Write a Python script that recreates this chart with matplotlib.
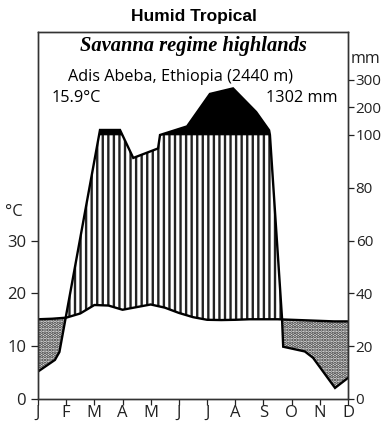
import numpy as np
import matplotlib.pyplot as plt

plt.rcParams['font.family'] = ['Open Sans', 'DejaVu Sans']
plt.rcParams['hatch.linewidth'] = 1.7

months = ['J', 'F', 'M', 'A', 'M', 'J', 'J', 'A', 'S', 'O', 'N', 'D']

# temperature (°C), read at half-month steps
temp_pos = np.arange(0, 11.01, 0.5)
temp_c = [15.1, 15.2, 15.4, 16.2, 17.8, 17.7, 16.9, 17.4, 17.9, 17.3, 16.3, 15.5,
          15.0, 14.95, 15.0, 15.1, 15.1, 15.1, 15.0, 14.9, 14.8, 14.7, 14.7]

# precipitation (mm), vertices of the drawn outline (position in months)
precip_pos = [0.0, 0.60, 0.76, 2.20, 2.91, 3.38, 4.26, 4.33, 5.29, 6.10, 6.92,
              7.74, 8.20, 8.23, 8.66, 8.70, 9.47, 9.76, 10.54, 11.0]
precip_mm = [10.4, 14.8, 17.8, 118, 118, 91.3, 94.9, 100, 131, 248, 268,
             183, 117, 100, 30.4, 19.8, 18.0, 15.6, 4.2, 8.0]

right_ticks_mm = [0, 20, 40, 60, 80, 100, 200, 300]


def mm_to_units(mm):
    mm = np.asarray(mm, dtype=float)
    return np.where(mm <= 100, mm / 2.0, 50 + (mm - 100) * 0.0525)


fig = plt.figure(figsize=(3.83, 4.21), dpi=100)
ax = fig.add_axes([38 / 383, 22 / 421, 310 / 383, 367 / 421])

p_units = mm_to_units(precip_mm)
xs = np.linspace(0, 11, 3000)
t_f = np.interp(xs, temp_pos, temp_c)
p_f = np.interp(xs, precip_pos, p_units)

# humid season: vertical hatching
ax.fill_between(xs, t_f, np.minimum(p_f, 50), where=p_f > t_f, interpolate=True,
                facecolor='white', edgecolor='#222222', hatch='|||', linewidth=0)
# very wet (> 100 mm): black
ax.fill_between(xs, 50, p_f, where=p_f > 50, interpolate=True,
                facecolor='black', edgecolor='black', linewidth=0.5)
# dry season: dotted
ax.fill_between(xs, p_f, t_f, where=p_f < t_f, interpolate=True,
                facecolor='#e4e4e4', edgecolor='#333333', hatch='.....', linewidth=0)

ax.plot(precip_pos, p_units, color='black', lw=1.7, solid_joinstyle='miter')
ax.plot(temp_pos, temp_c, color='black', lw=1.7)

ax.set_xlim(0, 11)
ax.set_ylim(0, 69.5)
ax.set_xticks(range(12))
ax.set_xticklabels(months, fontsize=12)
ax.set_yticks([0, 10, 20, 30])
ax.tick_params(axis='both', labelsize=12, colors='#222222', length=5, width=0.9)
ax.tick_params(axis='x', length=4, pad=0)

ax2 = ax.twinx()
ax2.set_ylim(0, 69.5)
ax2.set_yticks(mm_to_units(right_ticks_mm))
ax2.set_yticklabels([str(v) for v in right_ticks_mm])
ax2.tick_params(axis='y', labelsize=11, colors='#222222', length=4, width=0.9, pad=1.5)

for a in (ax, ax2):
    for s in a.spines.values():
        s.set_linewidth(1.0)
        s.set_color('#333333')

fig.text(14 / 383, 1 - 212 / 421, '°C', fontsize=12, ha='center', va='center', color='#222222')
fig.text(365 / 383, 1 - 59 / 421, 'mm', fontsize=11.5, ha='center', va='center', color='#222222')

fig.text(194 / 383, 1 - 17 / 421, 'Humid Tropical', fontsize=12.5, fontweight='bold',
         family='Liberation Sans', ha='center', va='center')
fig.text(193 / 383, 1 - 46 / 421, 'Savanna regime highlands', fontsize=14.8,
         fontweight='bold', fontstyle='italic', family='Liberation Serif',
         ha='center', va='center')
fig.text(181 / 383, 1 - 77 / 421, 'Adis Abeba, Ethiopia (2440 m)', fontsize=11.7,
         ha='center', va='center')
fig.text(52 / 383, 1 - 98 / 421, '15.9°C', fontsize=11.7, ha='left', va='center')
fig.text(338 / 383, 1 - 98 / 421, '1302 mm', fontsize=11.7, ha='right', va='center')

fig.savefig('out.png', dpi=100)
